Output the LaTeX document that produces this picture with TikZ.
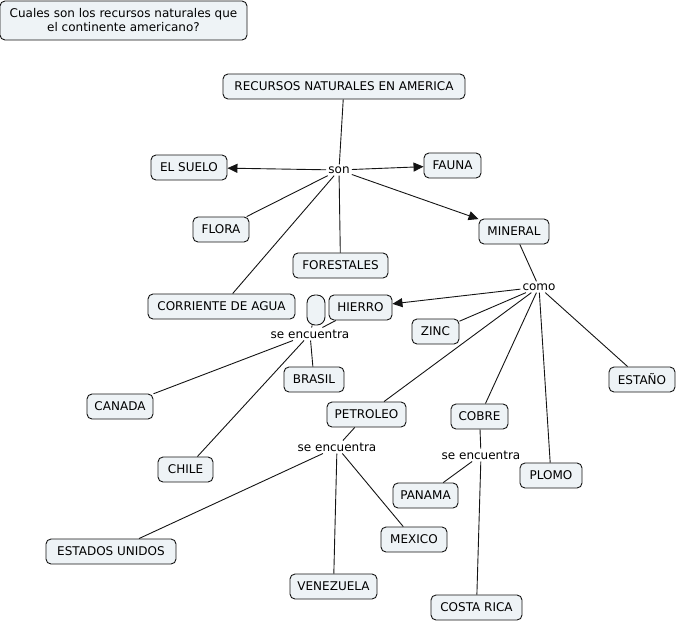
\documentclass[tikz,border=0pt]{standalone}
\usepackage{fontspec}
\setmainfont{DejaVu Sans}
\usetikzlibrary{arrows.meta}
\definecolor{boxfill}{RGB}{238,243,246}
\definecolor{linecol}{RGB}{20,20,20}
\tikzset{
  cbox/.style={draw=linecol, line width=0.9pt, rounded corners=5pt, fill=boxfill,
    minimum height=25pt, inner xsep=6pt, inner ysep=2pt, font=\fontsize{12}{14}\selectfont},
  lbl/.style={inner sep=2pt, font=\fontsize{12}{14}\selectfont},
  conn/.style={draw=linecol, line width=0.9pt},
  arr/.style={conn, -{Triangle[length=10pt,width=9pt]}}
}
\begin{document}
\begin{tikzpicture}[x=1pt,y=-1pt]
\useasboundingbox (0,0) rectangle (679,622);
% concepts
\node[cbox, minimum width=247pt, minimum height=39pt, align=center, inner ysep=1pt] (q) at (123.5,20.5) {Cuales son los recursos naturales que\\el continente americano?};
\node[cbox, minimum width=242pt] (rec) at (344,86.5) {RECURSOS NATURALES EN AMERICA};
\node[lbl] (son) at (339,170) {son};
\node[cbox, minimum width=76pt] (suelo) at (189,167.5) {EL SUELO};
\node[cbox, minimum width=57pt] (fauna) at (452.5,165.5) {FAUNA};
\node[cbox, minimum width=56pt] (flora) at (221,229.5) {FLORA};
\node[cbox, minimum width=95pt] (forest) at (340.5,265.5) {FORESTALES};
\node[cbox, minimum width=70pt] (mineral) at (514,231.5) {MINERAL};
\node[lbl] (como) at (539,287) {como};
\node[cbox, minimum width=147pt] (agua) at (221.5,306.5) {CORRIENTE DE AGUA};
\node[draw=linecol, line width=0.9pt, rounded corners=8pt, fill=boxfill, minimum width=18pt, minimum height=30pt, inner sep=0pt] (empty) at (316,310) {};
\node[cbox, minimum width=63pt] (hierro) at (360.5,307.5) {HIERRO};
\node[lbl] (se1) at (310,334) {se encuentra};
\node[cbox, minimum width=47pt] (zinc) at (435.5,331.5) {ZINC};
\node[cbox, minimum width=66pt] (estano) at (642,379.5) {ESTAÑO};
\node[cbox, minimum width=60pt] (brasil) at (314,379.5) {BRASIL};
\node[cbox, minimum width=66pt] (canada) at (120,406.5) {CANADA};
\node[cbox, minimum width=79pt] (petroleo) at (366.5,414.5) {PETROLEO};
\node[cbox, minimum width=57pt] (cobre) at (479.5,416.5) {COBRE};
\node[lbl] (se2) at (337,447) {se encuentra};
\node[lbl] (se3) at (481,455) {se encuentra};
\node[cbox, minimum width=62pt] (plomo) at (551,475.5) {PLOMO};
\node[cbox, minimum width=55pt] (chile) at (185.5,469.5) {CHILE};
\node[cbox, minimum width=65pt] (panama) at (425.5,495.5) {PANAMA};
\node[cbox, minimum width=130pt] (eeuu) at (111,551.5) {ESTADOS UNIDOS};
\node[cbox, minimum width=66pt] (mexico) at (414,539.5) {MEXICO};
\node[cbox, minimum width=87pt] (venez) at (333.5,586.5) {VENEZUELA};
\node[cbox, minimum width=91pt] (costa) at (476.5,607.5) {COSTA RICA};
% connectors
\draw[conn] (rec) -- (son);
\draw[arr] (son) -- (suelo);
\draw[arr] (son) -- (fauna);
\draw[arr] (son) -- (mineral);
\draw[conn] (son) -- (flora);
\draw[conn] (son) -- (forest);
\draw[conn] (son) -- (agua);
\draw[conn] (mineral) -- (como);
\draw[arr] (como) -- (hierro);
\draw[conn] (como) -- (zinc);
\draw[conn] (como) -- (petroleo);
\draw[conn] (como) -- (cobre);
\draw[conn] (como) -- (plomo);
\draw[conn] (como) -- (estano);
\draw[conn] (hierro) -- (se1);
\draw[conn] (empty) -- (se1);
\draw[conn] (se1) -- (brasil);
\draw[conn] (se1) -- (canada);
\draw[conn] (se1) -- (chile);
\draw[conn] (petroleo) -- (se2);
\draw[conn] (se2) -- (eeuu);
\draw[conn] (se2) -- (venez);
\draw[conn] (se2) -- (mexico);
\draw[conn] (cobre) -- (se3);
\draw[conn] (se3) -- (panama);
\draw[conn] (se3) -- (costa);
\end{tikzpicture}
\end{document}
